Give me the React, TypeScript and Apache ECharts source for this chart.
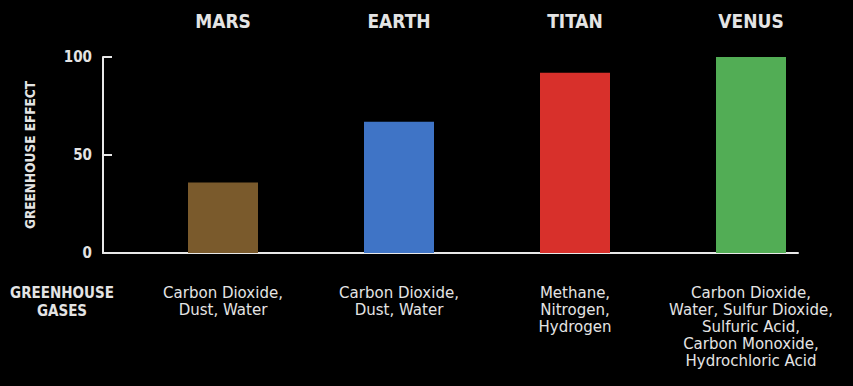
import React, { useEffect, useRef } from "react";
import * as echarts from "echarts";

const planets = ["MARS", "EARTH", "TITAN", "VENUS"];
const greenhouseEffect = [36, 67, 92, 100];
const gases = [
  "Carbon Dioxide,\nDust, Water",
  "Carbon Dioxide,\nDust, Water",
  "Methane,\nNitrogen,\nHydrogen",
  "Carbon Dioxide,\nWater, Sulfur Dioxide,\nSulfuric Acid,\nCarbon Monoxide,\nHydrochloric Acid",
];
const barColors = ["#7a5a2c", "#3f74c6", "#d8302b", "#52ad55"];
const yMin = 0;
const yMax = 100;
const yInterval = 50;

const FONT = "'DejaVu Sans Condensed', 'Liberation Sans Narrow', 'DejaVu Sans', sans-serif";
const FONT_WIDE = "'DejaVu Sans', sans-serif";
const TEXT = "#e4e4e4";

export default function App() {
  const ref = useRef<HTMLDivElement>(null);
  useEffect(() => {
    document.body.style.margin = "0";
    document.body.style.background = "#000";
    const chart = echarts.init(ref.current!, null, { renderer: "svg" });
    chart.setOption({
      animation: false,
      backgroundColor: "#000000",
      textStyle: { fontFamily: FONT },
      grid: [
        { left: 135, right: 14, top: 57, bottom: 133 },
        { left: 103, right: 55, top: 57, bottom: 133 },
      ],
      xAxis: [
        {
          type: "category",
          gridIndex: 0,
          data: planets,
          position: "top",
          axisLine: { show: false },
          axisTick: { show: false },
          axisLabel: {
            margin: 27,
            color: TEXT,
            fontSize: 19,
            fontWeight: "bold",
            fontFamily: FONT,
          },
        },
        {
          type: "category",
          gridIndex: 0,
          data: gases,
          position: "bottom",
          axisLine: { show: false },
          axisTick: { show: false },
          axisLabel: {
            interval: 0,
            margin: 31,
            color: TEXT,
            fontSize: 15,
            lineHeight: 17,
            fontFamily: FONT_WIDE,
          },
        },
        {
          type: "value",
          gridIndex: 1,
          min: 0,
          max: 1,
          axisLine: { show: true, lineStyle: { color: "#e8e8e8", width: 2 } },
          axisTick: { show: false },
          axisLabel: { show: false },
          splitLine: { show: false },
        },
      ],
      yAxis: [
        {
          type: "value",
          gridIndex: 0,
          min: yMin,
          max: yMax,
          interval: yInterval,
          offset: 32,
          axisLine: { show: true, lineStyle: { color: "#e8e8e8", width: 2 } },
          axisTick: { show: true, inside: true, length: 9, lineStyle: { color: "#e8e8e8", width: 2 } },
          axisLabel: { margin: 11, color: TEXT, fontSize: 15, fontWeight: "bold", fontFamily: FONT },
          splitLine: { show: false },
          name: "GREENHOUSE EFFECT",
          nameLocation: "middle",
          nameRotate: 90,
          nameGap: 66,
          nameTextStyle: { color: TEXT, fontSize: 13.5, fontWeight: "bold", fontFamily: FONT },
        },
        { type: "value", gridIndex: 1, show: false },
      ],
      graphic: [
        {
          type: "text",
          x: 62,
          y: 284,
          style: {
            text: "GREENHOUSE\nGASES",
            align: "center",
            verticalAlign: "top",
            fill: TEXT,
            font: `bold 15px ${FONT}`,
            lineHeight: 18,
          },
        },
      ],
      series: [
        {
          type: "bar",
          xAxisIndex: 0,
          yAxisIndex: 0,
          barWidth: 70,
          data: greenhouseEffect.map((v, i) => ({ value: v, itemStyle: { color: barColors[i] } })),
        },
      ],
    });
    return () => chart.dispose();
  }, []);
  return <div ref={ref} style={{ width: 853, height: 386, background: "#000" }} />;
}
